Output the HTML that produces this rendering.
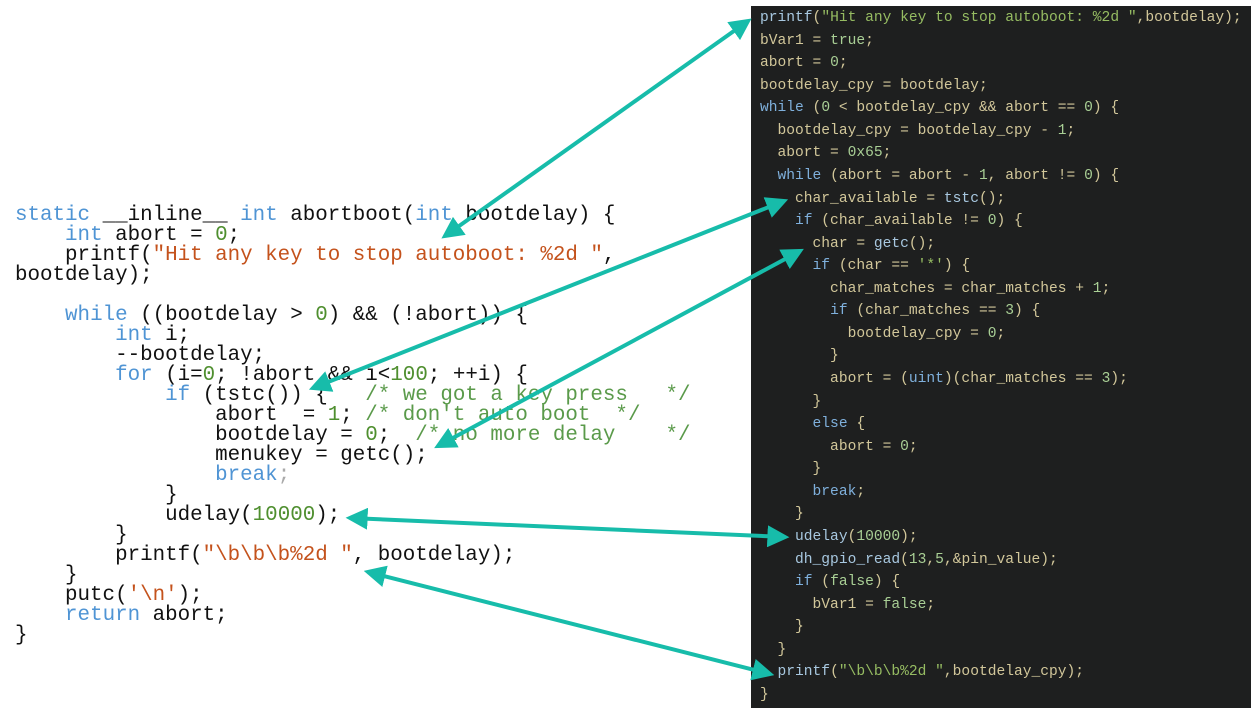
<!DOCTYPE html>
<html><head><meta charset="utf-8"><style>
body{margin:0;width:1251px;height:708px;background:#fff;position:relative;overflow:hidden}
pre{margin:0;position:absolute}
#L{left:15px;top:206px;font:20.85px/20px "Liberation Mono",monospace;color:#111}
.b{color:#4f94d4}.o{color:#c4521c}.g{color:#4f8f2f}.c{color:#5a9a4a}.gr{color:#aaa}
#P{position:absolute;left:751px;top:6px;width:500px;height:702px;background:#1e1f1f}
#R{left:9px;top:1px;font:14.6px/22.57px "Liberation Mono",monospace;color:#d2c79a}
.k{color:#7fb0dc}.n{color:#a9cf95}.s{color:#96bc62}.f{color:#a8c8e0}
svg{position:absolute;left:0;top:0}
</style></head><body>
<pre id="L"><span class="b">static</span> __inline__ <span class="b">int</span> abortboot(<span class="b">int</span> bootdelay) {
    <span class="b">int</span> abort = <span class="g">0</span>;
    printf(<span class="o">"Hit any key to stop autoboot: %2d "</span>,
bootdelay);

    <span class="b">while</span> ((bootdelay &gt; <span class="g">0</span>) &amp;&amp; (!abort)) {
        <span class="b">int</span> i;
        --bootdelay;
        <span class="b">for</span> (i=<span class="g">0</span>; !abort &amp;&amp; i&lt;<span class="g">100</span>; ++i) {
            <span class="b">if</span> (tstc()) {   <span class="c">/* we got a key press   */</span>
                abort  = <span class="g">1</span>; <span class="c">/* don't auto boot  */</span>
                bootdelay = <span class="g">0</span>;  <span class="c">/* no more delay    */</span>
                menukey = getc();
                <span class="b">break</span><span class="gr">;</span>
            }
            udelay(<span class="g">10000</span>);
        }
        printf(<span class="o">"\b\b\b%2d "</span>, bootdelay);
    }
    putc(<span class="o">'\n'</span>);
    <span class="b">return</span> abort;
}</pre>
<div id="P"><pre id="R"><span class="f">printf</span>(<span class="s">"Hit any key to stop autoboot: %2d "</span>,bootdelay);
bVar1 = <span class="n">true</span>;
abort = <span class="n">0</span>;
bootdelay_cpy = bootdelay;
<span class="k">while</span> (<span class="n">0</span> &lt; bootdelay_cpy &amp;&amp; abort == <span class="n">0</span>) {
  bootdelay_cpy = bootdelay_cpy - <span class="n">1</span>;
  abort = <span class="n">0x65</span>;
  <span class="k">while</span> (abort = abort - <span class="n">1</span>, abort != <span class="n">0</span>) {
    char_available = <span class="f">tstc</span>();
    <span class="k">if</span> (char_available != <span class="n">0</span>) {
      char = <span class="f">getc</span>();
      <span class="k">if</span> (char == <span class="s">'*'</span>) {
        char_matches = char_matches + <span class="n">1</span>;
        <span class="k">if</span> (char_matches == <span class="n">3</span>) {
          bootdelay_cpy = <span class="n">0</span>;
        }
        abort = (<span class="k">uint</span>)(char_matches == <span class="n">3</span>);
      }
      <span class="k">else</span> {
        abort = <span class="n">0</span>;
      }
      <span class="k">break</span>;
    }
    <span class="f">udelay</span>(<span class="n">10000</span>);
    <span class="f">dh_gpio_read</span>(<span class="n">13</span>,<span class="n">5</span>,&amp;pin_value);
    <span class="k">if</span> (<span class="n">false</span>) {
      bVar1 = <span class="n">false</span>;
    }
  }
  <span class="f">printf</span>(<span class="s">"\b\b\b%2d "</span>,bootdelay_cpy);
}</pre></div>
<svg width="1251" height="708">
<defs><marker id="a" viewBox="0 0 10 10" refX="8" refY="5" markerWidth="5.5" markerHeight="5.5" orient="auto-start-reverse"><path d="M0,0 L10,5 L0,10 z" fill="#17bcaa"/></marker></defs>
<g stroke="#17bcaa" stroke-width="4" fill="none" marker-start="url(#a)" marker-end="url(#a)">
<line x1="445" y1="236" x2="748" y2="21"/>
<line x1="313" y1="388" x2="784" y2="201"/>
<line x1="438" y1="446" x2="800" y2="251"/>
<line x1="350" y1="518" x2="785" y2="537"/>
<line x1="368" y1="572" x2="770" y2="674"/>
</g></svg>
</body></html>
